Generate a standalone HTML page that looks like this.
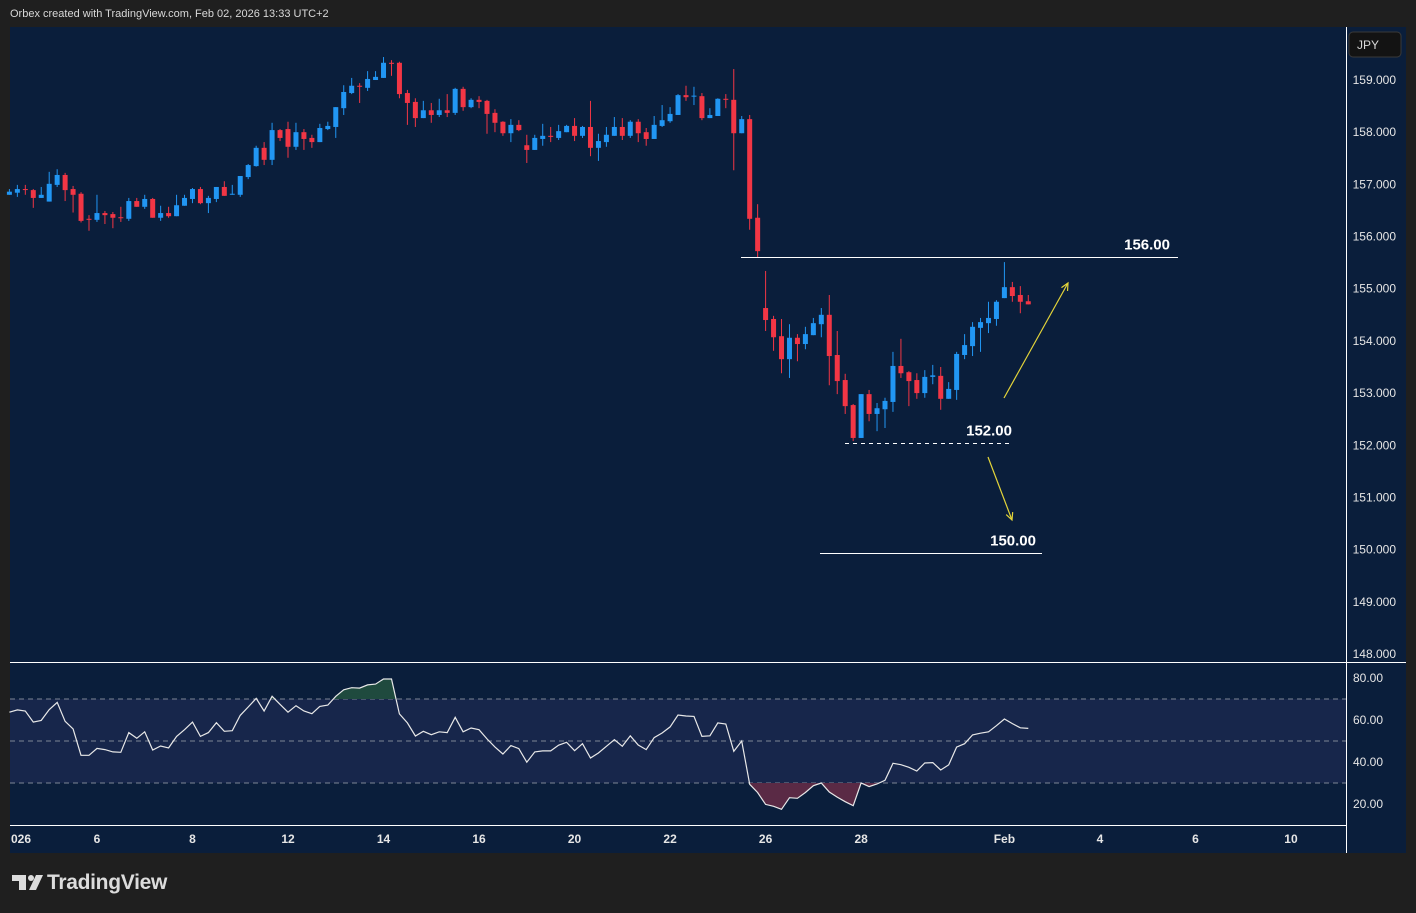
<!DOCTYPE html>
<html><head><meta charset="utf-8">
<style>
html,body{margin:0;padding:0;background:#1f1f1f;width:1416px;height:913px;overflow:hidden;font-family:"Liberation Sans",sans-serif}
#hdr{position:absolute;left:10px;top:8px;font-size:11px;color:#d8d8d8}
#logo{position:absolute;left:47px;top:871px;font-size:21px;font-weight:bold;color:#dcdcdc;letter-spacing:-0.3px}
svg{position:absolute;left:0;top:0}
</style></head><body>
<div id="hdr">Orbex created with TradingView.com, Feb 02, 2026 13:33 UTC+2</div>
<div id="logo">TradingView</div>
<svg id="chart" width="1416" height="913"></svg>
<script>
const opens=[156.80,156.84,156.91,156.89,156.74,156.67,156.99,157.18,156.91,156.82,156.34,156.32,156.45,156.43,156.37,156.34,156.68,156.57,156.72,156.36,156.45,156.39,156.59,156.72,156.91,156.64,156.72,156.95,156.81,156.80,157.14,157.35,157.70,157.47,158.04,158.06,157.72,158.00,157.89,157.81,158.06,158.10,158.46,158.75,158.89,158.85,159.00,159.04,159.33,159.33,158.75,158.58,158.27,158.42,158.33,158.42,158.37,158.83,158.48,158.62,158.60,158.37,158.20,157.98,158.14,157.75,157.66,157.87,157.93,157.89,158.00,158.12,157.93,158.10,157.70,157.81,157.93,158.10,157.93,158.20,158.00,157.87,158.12,158.21,158.33,158.71,158.69,158.69,158.27,158.31,158.64,158.62,157.98,158.25,156.36,154.63,154.42,154.09,153.65,154.06,153.94,154.11,154.32,154.50,153.73,153.25,152.77,152.14,152.98,152.60,152.69,152.83,153.52,153.40,153.25,153.00,153.31,153.33,152.89,153.06,153.73,153.90,154.25,154.34,154.42,154.82,155.03,154.88,154.76];
const closes=[156.86,156.91,156.90,156.74,156.80,157.01,157.18,156.89,156.80,156.30,156.33,156.45,156.41,156.36,156.36,156.68,156.57,156.72,156.36,156.45,156.39,156.60,156.74,156.91,156.64,156.74,156.95,156.78,156.82,157.16,157.37,157.70,157.47,158.04,157.89,157.72,158.00,157.87,157.81,158.08,158.12,158.48,158.77,158.89,158.87,159.02,159.06,159.33,159.31,158.73,158.56,158.27,158.42,158.33,158.42,158.37,158.83,158.48,158.62,158.58,158.35,158.18,157.98,158.14,158.04,157.66,157.89,157.93,157.91,158.02,158.12,157.93,158.10,157.70,157.83,157.95,158.10,157.93,158.20,157.98,157.87,158.14,158.23,158.35,158.71,158.67,158.70,158.27,158.33,158.64,158.62,157.98,158.25,156.34,155.72,154.40,154.07,153.65,154.06,153.94,154.13,154.34,154.50,153.71,153.23,152.75,152.14,152.98,152.60,152.71,152.85,153.52,153.38,153.23,153.00,153.31,153.34,152.89,153.08,153.75,153.92,154.27,154.36,154.44,154.75,155.03,154.86,154.75,154.70];
const highs=[156.91,156.99,156.99,156.91,156.95,157.24,157.29,157.22,156.97,156.85,156.41,156.80,156.49,156.47,156.57,156.74,156.74,156.80,156.74,156.59,156.57,156.80,156.80,156.93,156.95,156.78,156.95,157.06,156.99,157.16,157.39,157.74,157.81,158.18,158.06,158.20,158.18,158.06,157.95,158.16,158.20,158.48,158.90,159.04,158.94,159.17,159.17,159.44,159.38,159.35,158.81,158.65,158.60,158.56,158.64,158.73,158.85,158.87,158.65,158.69,158.62,158.44,158.21,158.25,158.23,157.95,157.95,158.16,158.10,158.14,158.14,158.27,158.12,158.60,157.97,158.10,158.29,158.27,158.23,158.25,158.08,158.31,158.52,158.48,158.73,158.89,158.87,158.75,158.46,158.65,158.73,159.21,158.31,158.33,156.62,155.34,154.48,154.42,154.32,154.13,154.27,154.44,154.63,154.88,154.19,153.37,152.79,152.98,153.06,152.81,152.91,153.79,154.04,153.42,153.38,153.44,153.54,153.50,153.21,153.79,154.13,154.36,154.44,154.75,154.78,155.51,155.13,155.05,154.88];
const lows=[156.80,156.76,156.80,156.55,156.74,156.67,156.95,156.68,156.46,156.27,156.11,156.28,156.24,156.16,156.28,156.30,156.57,156.53,156.36,156.30,156.36,156.39,156.59,156.64,156.62,156.45,156.66,156.78,156.80,156.76,157.10,157.34,157.37,157.37,157.83,157.51,157.66,157.66,157.70,157.81,158.04,157.89,158.33,158.73,158.56,158.79,159.00,159.04,159.08,158.65,158.14,158.10,158.27,158.18,158.29,158.29,158.33,158.41,158.46,158.46,157.97,158.00,157.93,157.81,158.02,157.41,157.66,157.74,157.81,157.85,158.00,157.83,157.89,157.54,157.45,157.72,157.93,157.85,157.89,157.81,157.74,157.87,158.10,158.18,158.33,158.60,158.52,158.23,158.27,158.31,158.46,157.27,157.98,156.13,155.59,154.19,153.81,153.38,153.29,153.61,153.84,154.11,154.07,153.15,152.98,152.60,152.08,152.14,152.46,152.27,152.33,152.64,153.29,152.75,152.89,152.91,153.17,152.68,152.89,152.87,153.65,153.71,153.79,154.15,154.29,154.82,154.75,154.53,154.70];
const rsi=[63.7,64.8,64.3,59.0,59.8,64.9,68.4,59.4,55.7,43.2,43.2,46.5,45.9,44.8,44.6,54.0,51.3,54.4,45.7,47.6,46.7,52.2,55.4,59.0,52.2,54.0,58.7,54.6,54.9,62.2,66.2,70.3,64.3,71.3,67.5,63.7,66.8,64.3,63.0,66.5,67.1,71.3,74.4,75.4,75.2,76.7,77.1,79.5,79.5,62.9,58.6,52.4,54.6,53.0,54.4,54.0,61.3,54.4,56.2,55.4,51.0,47.1,43.8,47.8,46.4,39.9,44.8,45.3,45.3,48.0,49.4,45.4,48.7,41.9,44.3,47.5,50.6,47.5,52.5,48.1,45.9,51.6,53.8,56.7,62.4,61.9,61.7,52.2,52.5,58.6,58.1,45.1,50.0,29.4,25.5,19.8,18.9,17.5,23.0,22.7,25.5,28.7,30.0,25.7,23.3,21.1,19.2,30.0,28.3,29.5,31.3,39.4,38.7,37.5,35.7,39.5,39.7,36.2,38.6,47.1,48.7,52.9,53.7,54.4,57.3,60.5,58.3,56.3,56.0];
const priceTicks=[159,158,157,156,155,154,153,152,151,150,149,148];
const rsiTicks=[80,60,40,20];
const dateLabels=["026","6","8","12","14","16","20","22","26","28","Feb","4","6","10"];
const dateIndex=[-1.3,11,23,35,47,59,71,83,95,107,125,137,149,161];
const levelPrices=[155.60,152.04,149.93];
const levelLabels=["156.00","152.00","150.00"];
const levels=[{x0:741,x1:1178,dash:false,lx:1170},{x0:845,x1:1012,dash:true,lx:1012},{x0:820,x1:1042,dash:false,lx:1036}];

const NS="http://www.w3.org/2000/svg";
const svg=document.getElementById('chart');
function el(tag,attrs,parent){const e=document.createElementNS(NS,tag);for(const k in attrs)e.setAttribute(k,attrs[k]);(parent||svg).appendChild(e);return e;}
const xOf=i=>9.4+7.96*i;
const yP=p=>80+(159-p)*52.18;
const yR=v=>678+(80-v)*2.1;

let bg=el('rect',{x:10,y:27,width:1396,height:826,fill:'#0a1e3b'});

let band=el('rect',{x:10,y:yR(70),width:1336,height:yR(30)-yR(70),fill:'#17264b'});

[70,50,30].forEach(v=>{let l=el('line',{x1:10,x2:1346,y1:yR(v),y2:yR(v),stroke:'#7d8595','stroke-dasharray':'5,4','stroke-width':1});
});

const clip=el('defs',{});
let cp1=el('clipPath',{id:'above'},clip);el('rect',{x:0,y:0,width:1416,height:yR(70)},cp1);
let cp2=el('clipPath',{id:'below'},clip);el('rect',{x:0,y:yR(30),width:1416,height:200},cp2);
let pts=rsi.map((v,i)=>xOf(i).toFixed(1)+','+yR(v).toFixed(1));
let fa=el('polygon',{points:xOf(0)+','+yR(70)+' '+pts.join(' ')+' '+xOf(rsi.length-1)+','+yR(70),fill:'#1f4a3e','clip-path':'url(#above)'});

let fb=el('polygon',{points:xOf(0)+','+yR(30)+' '+pts.join(' ')+' '+xOf(rsi.length-1)+','+yR(30),fill:'#5a2a45','clip-path':'url(#below)'});

let rl=el('polyline',{points:pts.join(' '),fill:'none',stroke:'#e8e8e8','stroke-width':1.2});


closes.forEach((c,i)=>{
  const o=opens[i],h=highs[i],l=lows[i];const up=c>=o;const col=up?'#2196f3':'#f23645';const x=xOf(i);
  const g=el('g',{});
  
  el('line',{x1:x,x2:x,y1:yP(h),y2:yP(l),stroke:col,'stroke-width':1},g);
  const t=yP(Math.max(o,c)),b=yP(Math.min(o,c));
  el('rect',{x:x-2.5,y:t,width:5,height:Math.max(1,b-t),fill:col},g);
});

levels.forEach((L,k)=>{
  const y=Math.round(yP(levelPrices[k]))+0.5;
  let ln=el('line',{x1:L.x0,x2:L.x1,y1:y,y2:y,stroke:'#ffffff','stroke-width':1,'stroke-dasharray':L.dash?'4,4':'none'});
  
  let tx=el('text',{x:L.lx,y:y-8,fill:'#ffffff','font-size':15,'font-weight':'bold','text-anchor':'end','font-family':'Liberation Sans, sans-serif'});
  tx.textContent=levelLabels[k];
  
});
function arrow(x1,y1,x2,y2,name){
  const g=el('g',{stroke:'#e3d43a','stroke-width':1.2,fill:'none'});
  
  el('line',{x1,y1,x2,y2},g);
  const a=Math.atan2(y2-y1,x2-x1),s=8;
  el('polyline',{points:(x2-s*Math.cos(a-0.45))+','+(y2-s*Math.sin(a-0.45))+' '+x2+','+y2+' '+(x2-s*Math.cos(a+0.45))+','+(y2-s*Math.sin(a+0.45))},g);
}
arrow(1004,398,1068,283,'bullish-arrow');
arrow(988,457,1012,520,'bearish-arrow');

let s1=el('line',{x1:10,x2:1406,y1:662.5,y2:662.5,stroke:'#ffffff','stroke-width':1});

let s2=el('line',{x1:10,x2:1346,y1:825.5,y2:825.5,stroke:'#ffffff','stroke-width':1});

let s3=el('line',{x1:1346.5,x2:1346.5,y1:27,y2:853,stroke:'#ffffff','stroke-width':1});


priceTicks.forEach(p=>{let t=el('text',{x:1396,y:yP(p)+4,fill:'#e6e6e6','font-size':12,'text-anchor':'end','font-family':'Liberation Sans, sans-serif'});
t.textContent=p.toFixed(3);});
rsiTicks.forEach(v=>{let t=el('text',{x:1383,y:yR(v)+4,fill:'#e6e6e6','font-size':12,'text-anchor':'end','font-family':'Liberation Sans, sans-serif'});
t.textContent=v.toFixed(2);});
dateLabels.forEach((d,k)=>{let x=xOf(dateIndex[k]);let t=el('text',{x:k===0?11:x,y:843,fill:'#e6e6e6','font-size':12,'font-weight':'bold','text-anchor':k===0?'start':'middle','font-family':'Liberation Sans, sans-serif'});
t.textContent=d;});

const lg=el('g',{fill:'#dcdcdc'});
el('rect',{x:12,y:875,width:14,height:6},lg);el('rect',{x:19,y:875,width:7,height:15},lg);
el('circle',{cx:31,cy:878,r:3},lg);el('polygon',{points:'36,875 43,875 36,890 29,890'},lg);

const jb=el('g',{});
el('rect',{x:1349,y:32,width:52,height:25,rx:4,fill:'#131313',stroke:'#3a3a3a'},jb);
let jt=el('text',{x:1357,y:49,fill:'#d8d8d8','font-size':12,'font-family':'Liberation Sans, sans-serif'},jb);jt.textContent='JPY';
</script>
</body></html>
